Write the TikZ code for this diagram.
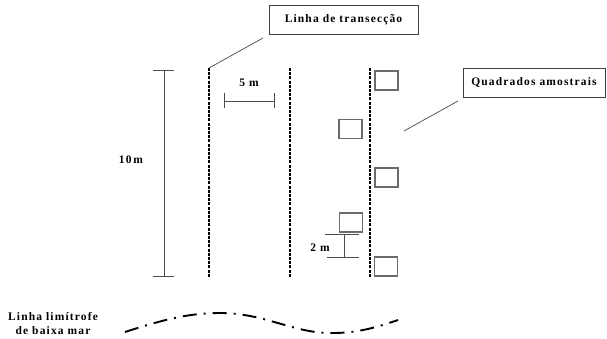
\documentclass[tikz,border=0pt]{standalone}
\usepackage{fontspec}
\setmainfont{Liberation Serif}
\newfontfamily\spacedserif[LetterSpace=10]{Liberation Serif}
\begin{document}
\begin{tikzpicture}[x=1pt,y=-1pt,
  transect/.style={line width=2.1pt, dash pattern=on 3pt off 1.2pt},
  plotsq/.style={draw=gray!85!black, line width=1.7pt, minimum width=23pt, minimum height=19pt, inner sep=0pt},
  scalebar/.style={draw=gray!60!black, line width=0.8pt},
  callout/.style={draw=black!75, line width=0.8pt, fill=white, font=\spacedserif\bfseries\fontsize{11.5}{13}\selectfont, inner sep=0pt, minimum height=29pt},
  leader/.style={draw=gray!70!black, line width=0.8pt},
  lbl/.style={font=\spacedserif\bfseries\fontsize{11.5}{13.5}\selectfont, inner sep=0pt}]
\useasboundingbox (0,0) rectangle (607,339);

% transect lines
\coordinate (t1a) at (209,68); \coordinate (t1b) at (209,277);
\coordinate (t2a) at (290,68); \coordinate (t2b) at (290,277);
\coordinate (t3a) at (370,68); \coordinate (t3b) at (370,277);
\draw[transect] (t1a) -- (t1b);
\draw[transect] (t2a) -- (t2b);
\draw[transect] (t3a) -- (t3b);

% callout boxes
\node[callout, minimum width=149pt] (ltr) at (343.5,19.5) {Linha de transecção};
\node[callout, minimum width=142pt] (qam) at (534,82.5) {Quadrados amostrais};
\coordinate (ltrend) at (263,38);
\coordinate (qamtip) at (404,131);
\coordinate (qamstart) at (458,101);
\draw[leader] (ltrend) -- (t1a);
\draw[leader] (qamstart) -- (qamtip);

% sampling quadrats
\node[plotsq] (q1) at (386.5,80.5) {};
\node[plotsq] (q2) at (350.5,129) {};
\node[plotsq] (q3) at (386.5,177.5) {};
\node[plotsq] (q4) at (351,222.5) {};
\node[plotsq] (q5) at (386,266.5) {};

% 10 m scale bar
\coordinate (d10a) at (164,70); \coordinate (d10b) at (164,276);
\draw[scalebar] (d10a) -- (d10b);
\draw[scalebar] (153,70) -- (174,70);
\draw[scalebar] (153,276) -- (174,276);
\node[lbl] (l10) at (131,160) {10\,m};

% 5 m scale bar
\coordinate (d5a) at (224,101); \coordinate (d5b) at (274,101);
\draw[scalebar] (d5a) -- (d5b);
\draw[scalebar] (224,93) -- (224,108);
\draw[scalebar] (274,93) -- (274,108);
\node[lbl] (l5) at (249,83) {5 m};

% 2 m scale bar
\coordinate (d2a) at (344,234); \coordinate (d2b) at (344,257);
\draw[scalebar] (d2a) -- (d2b);
\draw[scalebar] (325,234) -- (359,234);
\draw[scalebar] (327,257) -- (359,257);
\node[lbl] (l2) at (320,248) {2 m};

% low-tide boundary
\node[lbl, align=center] (ltm) at (53,323.5) {Linha limítrofe\\de baixa mar};
\coordinate (w0) at (125,332);
\coordinate (w1) at (220,313);
\coordinate (w2) at (333,333);
\coordinate (w3) at (398,320);
\draw[line width=1.9pt, dash pattern=on 14pt off 7pt on 2pt off 7pt]
  (w0) .. controls (165,319) and (190,313) .. (w1)
       .. controls (265,313) and (295,334) .. (w2)
       .. controls (360,333) and (380,326) .. (w3);
\end{tikzpicture}
\end{document}
